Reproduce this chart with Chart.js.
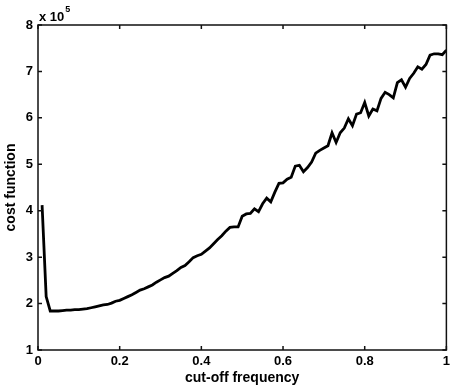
<!DOCTYPE html>
<html>
<head>
<meta charset="utf-8">
<script src="https://cdn.jsdelivr.net/npm/chart.js@4/dist/chart.umd.min.js"></script>
<style>
  html, body { margin: 0; padding: 0; background: #fff; }
  #wrap { width: 454px; height: 389px; }
</style>
</head>
<body>
<div id="wrap"><canvas id="c" width="454" height="389"></canvas></div>
<script>
// cut-off frequency (x) and cost function values (units of 1e5)
const cutoff = [
  0.01,0.02,0.03,0.04,0.05,0.06,0.07,0.08,0.09,0.10,
  0.11,0.12,0.13,0.14,0.15,0.16,0.17,0.18,0.19,0.20,
  0.21,0.22,0.23,0.24,0.25,0.26,0.27,0.28,0.29,0.30,
  0.31,0.32,0.33,0.34,0.35,0.36,0.37,0.38,0.39,0.40,
  0.41,0.42,0.43,0.44,0.45,0.46,0.47,0.48,0.49,0.50,
  0.51,0.52,0.53,0.54,0.55,0.56,0.57,0.58,0.59,0.60,
  0.61,0.62,0.63,0.64,0.65,0.66,0.67,0.68,0.69,0.70,
  0.71,0.72,0.73,0.74,0.75,0.76,0.77,0.78,0.79,0.80,
  0.81,0.82,0.83,0.84,0.85,0.86,0.87,0.88,0.89,0.90,
  0.91,0.92,0.93,0.94,0.95,0.96,0.97,0.98,0.99,1.00
];
const cost = [
  4.12,2.15,1.84,1.84,1.84,1.85,1.86,1.86,1.87,1.87,
  1.88,1.89,1.91,1.93,1.95,1.97,1.98,2.01,2.05,2.07,
  2.11,2.15,2.19,2.24,2.29,2.32,2.36,2.40,2.46,2.51,
  2.56,2.59,2.65,2.71,2.78,2.82,2.90,2.99,3.03,3.06,
  3.13,3.20,3.29,3.38,3.46,3.56,3.64,3.65,3.65,3.88,
  3.93,3.94,4.04,3.98,4.15,4.27,4.19,4.40,4.59,4.60,
  4.68,4.72,4.96,4.98,4.84,4.93,5.05,5.24,5.30,5.35,
  5.40,5.68,5.47,5.68,5.78,5.98,5.83,6.08,6.11,6.33,
  6.04,6.19,6.15,6.42,6.55,6.50,6.43,6.76,6.82,6.66,
  6.85,6.96,7.10,7.05,7.15,7.35,7.38,7.38,7.36,7.46
];
const xTicks = [0, 0.2, 0.4, 0.6, 0.8, 1];
const yTicks = [1, 2, 3, 4, 5, 6, 7, 8];
const xTitle = 'cut-off frequency';
const yTitle = 'cost function';
const yExponent = '5';

const FONT = 'Arial, "Liberation Sans", sans-serif';

const boxTicks = {
  id: 'boxTicks',
  afterDraw(chart) {
    const ctx = chart.ctx;
    const a = chart.chartArea;
    const xs = chart.scales.x, ys = chart.scales.y;
    const L = 4;
    ctx.save();
    ctx.strokeStyle = '#111';
    ctx.lineWidth = 1.5;
    ctx.strokeRect(a.left, a.top, a.right - a.left, a.bottom - a.top);
    ctx.beginPath();
    xTicks.forEach(v => {
      const px = xs.getPixelForValue(v);
      ctx.moveTo(px, a.bottom); ctx.lineTo(px, a.bottom - L);
      ctx.moveTo(px, a.top); ctx.lineTo(px, a.top + L);
    });
    yTicks.forEach(v => {
      const py = ys.getPixelForValue(v);
      ctx.moveTo(a.left, py); ctx.lineTo(a.left + L, py);
      ctx.moveTo(a.right, py); ctx.lineTo(a.right - L, py);
    });
    ctx.stroke();
    // exponent label
    ctx.fillStyle = '#000';
    ctx.textBaseline = 'alphabetic';
    ctx.textAlign = 'left';
    ctx.font = 'bold 13px ' + FONT;
    const base = 'x 10';
    ctx.fillText(base, a.left + 1, a.top - 4);
    const w = ctx.measureText(base).width;
    ctx.font = 'bold 9px ' + FONT;
    ctx.fillText(yExponent, a.left + 1 + w + 1, a.top - 13);
    ctx.restore();
  }
};

new Chart(document.getElementById('c'), {
  type: 'line',
  data: {
    labels: cutoff,
    datasets: [{
      data: cutoff.map((x, i) => ({ x: x, y: cost[i] })),
      borderColor: '#000',
      borderWidth: 2.8,
      pointRadius: 0,
      tension: 0,
      fill: false
    }]
  },
  options: {
    responsive: false,
    animation: false,
    layout: { padding: { left: 0, right: 7, top: 25, bottom: 0 } },
    plugins: { legend: { display: false }, tooltip: { enabled: false } },
    scales: {
      x: {
        type: 'linear',
        min: 0, max: 1,
        afterBuildTicks: s => { s.ticks = xTicks.map(v => ({ value: v })); },
        afterFit: s => { s.height = 39; },
        grid: { display: false, drawTicks: false },
        border: { display: false },
        ticks: {
          color: '#000', padding: 4, maxRotation: 0,
          font: { family: FONT, size: 13, weight: 'bold' },
          callback: v => String(v)
        },
        title: {
          display: true, text: xTitle, color: '#000',
          font: { family: FONT, size: 14, weight: 'bold' },
          padding: { top: 0, bottom: 2 }
        }
      },
      y: {
        type: 'linear',
        min: 1, max: 8,
        afterBuildTicks: s => { s.ticks = yTicks.map(v => ({ value: v })); },
        afterFit: s => { s.width = 38; },
        grid: { display: false, drawTicks: false },
        border: { display: false },
        ticks: {
          color: '#000', padding: 5,
          font: { family: FONT, size: 13, weight: 'bold' },
          callback: v => String(v)
        },
        title: {
          display: true, text: yTitle, color: '#000',
          font: { family: FONT, size: 14, weight: 'bold' },
          padding: { top: 3, bottom: 0 }
        }
      }
    }
  },
  plugins: [boxTicks]
});
</script>
</body>
</html>
